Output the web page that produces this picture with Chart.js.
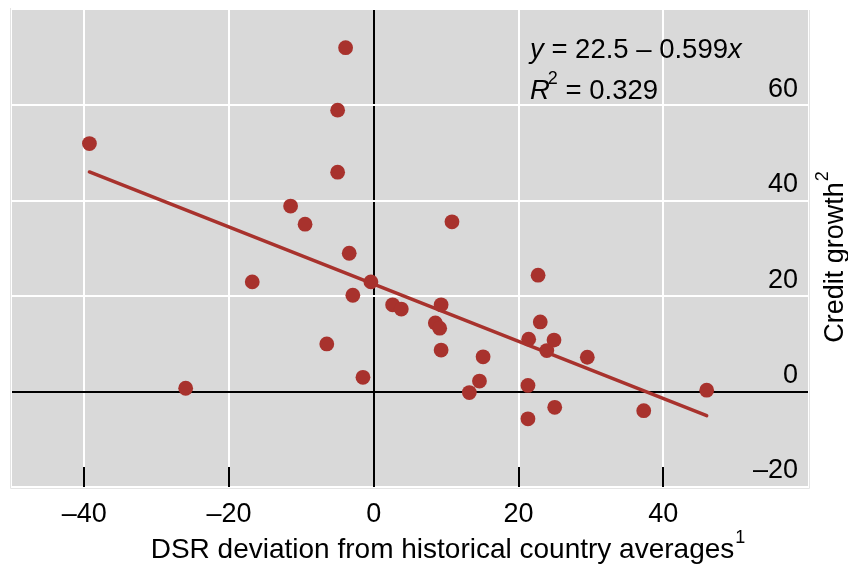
<!DOCTYPE html>
<html>
<head>
<meta charset="utf-8">
<script src="https://cdn.jsdelivr.net/npm/chart.js@4.4.1/dist/chart.umd.min.js"></script>
<style>
  html, body { margin: 0; padding: 0; background: #fff; }
</style>
</head>
<body>
<canvas id="dsrChart" width="848" height="567"></canvas>
<script>
// DSR deviation (x) against credit growth (y), one point per country
const dsrDeviation = [
  -39.3, -26.0, -16.8, -11.5, -9.5, -3.9, -5.0, -5.0, -3.4, -2.9, -6.5, -1.5, -0.4,
  10.8, 2.6, 3.8, 9.3, 8.5, 9.1, 9.3, 15.1, 14.6, 13.2,
  22.7, 23.0, 21.4, 24.9, 23.9, 29.5, 21.3, 21.3, 25.0, 37.3, 46.0
];
const creditGrowth = [
  52.0, 0.7, 23.0, 38.9, 35.1, 72.1, 59.0, 46.0, 29.0, 20.2, 10.0, 3.0, 23.0,
  35.6, 18.2, 17.3, 18.2, 14.4, 13.3, 8.7, 7.3, 2.2, -0.2,
  24.4, 14.6, 11.0, 10.8, 8.6, 7.2, 1.3, -5.7, -3.3, -4.0, 0.3
];
const xTickValues = [-40, -20, 0, 20, 40];
const yTickValues = [-20, 0, 20, 40, 60];

// regression fit
const fitIntercept = 22.5;
const fitSlope = -0.599;
const fitR2 = '0.329';

const RED = '#a8322d';
const FONT = '"Liberation Sans", Arial, Helvetica, sans-serif';

const fmt = v => (v < 0 ? '\u2013' + Math.abs(v) : String(v));

const xMin = Math.min(...dsrDeviation);
const xMax = Math.max(...dsrDeviation);
const fitLine = [xMin, xMax].map(x => ({ x: x, y: fitIntercept + fitSlope * x }));

// draws a run of text pieces; italic / superscript per piece
function drawRuns(ctx, x, y, runs, size) {
  runs.forEach(r => {
    const s = r.sup ? 18 : size;
    ctx.font = (r.italic ? 'italic ' : '') + s + 'px ' + FONT;
    ctx.fillText(r.text, x + (r.dx || 0), r.sup ? y - 15 : y);
    x += ctx.measureText(r.text).width + (r.dx || 0);
  });
  return x;
}
function runsWidth(ctx, runs, size) {
  let w = 0;
  runs.forEach(r => {
    ctx.font = (r.italic ? 'italic ' : '') + (r.sup ? 18 : size) + 'px ' + FONT;
    w += ctx.measureText(r.text).width + (r.dx || 0);
  });
  return w;
}

const panelPlugin = {
  id: 'panel',
  beforeDraw(chart) {
    const { ctx, chartArea: a } = chart;
    ctx.save();
    ctx.fillStyle = '#d9d9d9';
    ctx.fillRect(a.left, a.top, a.right - a.left, a.bottom - a.top);
    ctx.strokeStyle = '#e4e4e4';
    ctx.lineWidth = 1;
    ctx.beginPath();
    ctx.moveTo(a.left - 1.5, a.top - 2);
    ctx.lineTo(a.left - 1.5, a.bottom + 1.5);
    ctx.lineTo(a.right + 1.5, a.bottom + 1.5);
    ctx.lineTo(a.right + 1.5, a.top);
    ctx.stroke();
    ctx.restore();
  },
  beforeDatasetsDraw(chart) {
    // short ticks standing on the bottom edge
    const { ctx, chartArea: a, scales: { x } } = chart;
    ctx.save();
    ctx.strokeStyle = '#000';
    ctx.lineWidth = 2;
    xTickValues.forEach(v => {
      const px = Math.round(x.getPixelForValue(v));
      ctx.beginPath();
      ctx.moveTo(px, a.bottom - 20);
      ctx.lineTo(px, a.bottom);
      ctx.stroke();
    });
    ctx.restore();
  },
  afterDraw(chart) {
    const { ctx } = chart;
    ctx.save();
    ctx.fillStyle = '#000';
    ctx.textAlign = 'left';
    ctx.textBaseline = 'alphabetic';

    // equation box
    drawRuns(ctx, 530, 58, [
      { text: 'y', italic: true },
      { text: ' = ' + fitIntercept + ' \u2013 ' + Math.abs(fitSlope) },
      { text: 'x', italic: true }
    ], 27.5);
    drawRuns(ctx, 530, 99, [
      { text: 'R', italic: true },
      { text: '2', sup: true, dx: -2 },
      { text: ' = ' + fitR2 }
    ], 27.5);

    // x axis title
    const xRuns = [
      { text: 'DSR deviation from historical country averages' },
      { text: '1', sup: true, dx: 1 }
    ];
    const xw = runsWidth(ctx, xRuns, 28);
    drawRuns(ctx, 448 - xw / 2, 558, xRuns, 28);

    // y axis title, reading upward
    const yRuns = [
      { text: 'Credit growth' },
      { text: '2', sup: true, dx: 1 }
    ];
    const yw = runsWidth(ctx, yRuns, 27);
    ctx.translate(843, 257 + yw / 2);
    ctx.rotate(-Math.PI / 2);
    drawRuns(ctx, 0, 0, yRuns, 27);
    ctx.restore();
  }
};

const gridColor = c => (c.tick && c.tick.value === 0 ? '#000' : '#fff');

new Chart(document.getElementById('dsrChart'), {
  type: 'scatter',
  data: {
    datasets: [
      {
        data: dsrDeviation.map((x, i) => ({ x: x, y: creditGrowth[i] })),
        backgroundColor: RED,
        borderWidth: 0,
        pointRadius: 7.4,
        pointHoverRadius: 7.4,
        order: 1
      },
      {
        type: 'line',
        data: fitLine,
        borderColor: RED,
        borderWidth: 3.5,
        borderCapStyle: 'round',
        pointRadius: 0,
        fill: false,
        order: 2
      }
    ]
  },
  options: {
    responsive: false,
    animation: false,
    devicePixelRatio: 1,
    layout: { padding: { left: 12, top: 10, right: 0, bottom: 0 } },
    plugins: {
      legend: { display: false },
      tooltip: { enabled: false }
    },
    scales: {
      x: {
        type: 'linear',
        position: 'bottom',
        min: -50,
        max: 60,
        afterBuildTicks: s => { s.ticks = xTickValues.map(v => ({ value: v })); },
        afterFit: s => { s.height = 80; },
        grid: { color: gridColor, lineWidth: 2, drawTicks: false },
        border: { display: false },
        ticks: {
          padding: 11,
          color: '#000',
          font: { size: 27, family: FONT },
          maxRotation: 0,
          callback: v => fmt(v)
        }
      },
      y: {
        type: 'linear',
        position: 'right',
        min: -20,
        max: 80,
        afterBuildTicks: s => { s.ticks = yTickValues.map(v => ({ value: v })); },
        afterFit: s => { s.width = 40; },
        grid: { color: gridColor, lineWidth: 2, drawTicks: false },
        border: { display: false },
        ticks: {
          mirror: true,
          padding: -10,
          labelOffset: -16,
          color: '#000',
          font: { size: 27, family: FONT },
          callback: v => fmt(v)
        }
      }
    }
  },
  plugins: [panelPlugin]
});
</script>
</body>
</html>
